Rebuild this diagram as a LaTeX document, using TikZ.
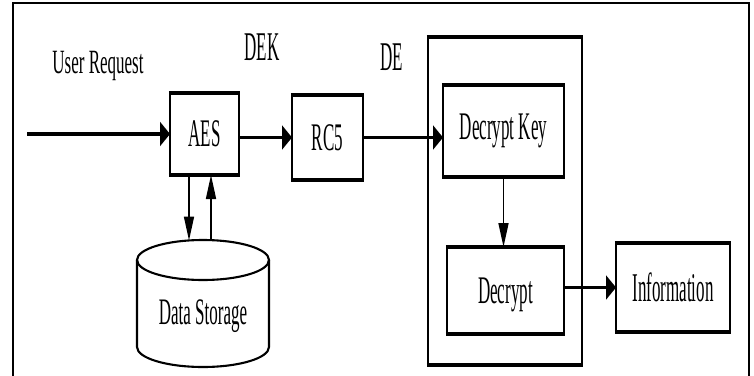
\documentclass[tikz,border=0pt]{standalone}
\usepackage{fontspec}
\usepackage{graphicx}
\setmainfont{Liberation Serif}
\usetikzlibrary{arrows.meta,calc}

% tall, narrow lettering
\newcommand{\tall}[2][2.3]{\scalebox{1}[#1]{#2}}

\tikzset{
  box/.style={draw, line width=2.1pt, outer sep=0pt, inner sep=0pt,
              font=\fontsize{17}{17}\selectfont},
  rim/.style={line width=4.6pt},
  frameline/.style={line width=2.2pt},
  harrow/.style={line width=3.6pt, -{Triangle[length=10pt,width=24pt]}},
  varrow/.style={line width=1.6pt, -{Triangle[length=24pt,width=10pt]}},
  lbl/.style={font=\fontsize{17}{17}\selectfont, inner sep=0pt, anchor=base},
}

\begin{document}
\begin{tikzpicture}[x=1pt,y=-1pt]
\useasboundingbox (0,0) rectangle (754,375);

% outer frame, open at the bottom
\draw[frameline] (13,377) -- (13,3) -- (749,3) -- (749,377);

% processing blocks
\node[box, minimum width=69pt, minimum height=82pt]  (aes) at (204.5,134)   {\tall{AES}};
\node[box, minimum width=71pt, minimum height=85pt]  (rc5) at (327.5,137.5) {\tall{RC5}};
\node[box, minimum width=154pt, minimum height=328pt] (de) at (505,201) {};
\node[box, minimum width=121pt, minimum height=92pt] (dk)  at (503.5,131)   {\tall{Decrypt Key}};
\node[box, minimum width=117pt, minimum height=87pt, text depth=0pt] (dec) at (505.5,290.5) {\tall{Decrypt}};
\node[box, minimum width=114pt, minimum height=89pt] (info) at (673,287.5)  {\tall[2.4]{Information}};

% heavier top and bottom edges of the blocks
\foreach \n in {aes,rc5,de,dk,dec,info}
  \draw[rim] ([xshift=-1.05pt]\n.north west) -- ([xshift=1.05pt]\n.north east)
             ([xshift=-1.05pt]\n.south west) -- ([xshift=1.05pt]\n.south east);

% data storage cylinder
\draw[line width=2.1pt] (137,260) -- (137,347) arc[start angle=180, end angle=0, x radius=66, y radius=20]
      -- (269,260);
\draw[line width=2.1pt] (203,260) ellipse[x radius=66, y radius=20];
\node[lbl, anchor=center] (ds) at (203,316) {\tall[2.2]{Data Storage}};
\coordinate (dsin)  at (189,240.5);
\coordinate (dsout) at (211,240.5);

% labels on the flow
\node[lbl] (ureq) at (98,73) {\tall[2.0]{User Request}};
\node[lbl] (dek)  at (262,60) {\tall[2.4]{DEK}};
\node[lbl] (delb) at (391.5,70) {\tall[2.4]{DE}};

% connectors
\coordinate (src) at (27,134);
\draw[harrow] (src) -- (aes.west);
\draw[harrow] (aes.east |- rc5) -- (rc5.west);
\draw[harrow] (rc5.east) -- (rc5.east -| dk.west);
\draw[varrow] (dk.south) -- (dk.south |- dec.north);
\draw[harrow] (dec.east |- info) -- (info.west);
\draw[varrow] (dsin |- aes.south) -- (dsin);
\draw[varrow] (dsout) -- (dsout |- aes.south);
\end{tikzpicture}
\end{document}
